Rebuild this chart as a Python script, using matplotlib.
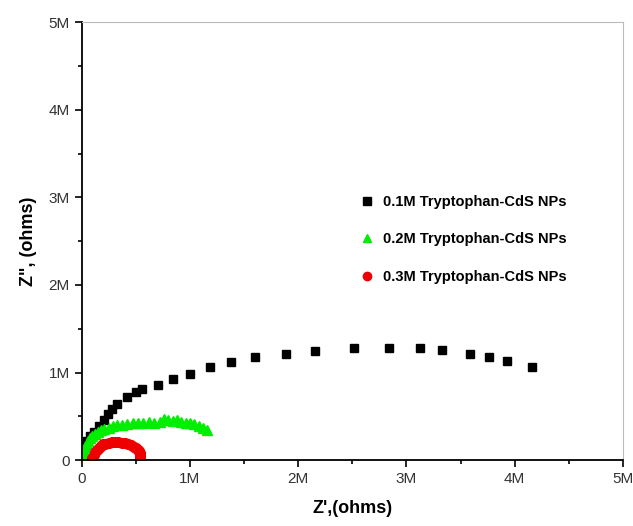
import matplotlib as mpl
mpl.use('Agg')
import matplotlib.pyplot as plt
from matplotlib.ticker import FuncFormatter, MultipleLocator

plt.rcParams['font.family'] = ['Liberation Sans', 'DejaVu Sans']

# Nyquist data, values in M ohm
x01 = [0.009, 0.023, 0.051, 0.078, 0.115, 0.161, 0.208, 0.244, 0.281, 0.327, 0.420, 0.503,
       0.558, 0.706, 0.844, 1.001, 1.186, 1.379, 1.600, 1.887, 2.154, 2.513, 2.837, 3.122,
       3.325, 3.584, 3.759, 3.925, 4.156]
y01 = [0.114, 0.171, 0.217, 0.274, 0.320, 0.389, 0.457, 0.526, 0.583, 0.640, 0.720, 0.777,
       0.811, 0.857, 0.926, 0.983, 1.063, 1.120, 1.177, 1.211, 1.246, 1.280, 1.280, 1.280,
       1.257, 1.211, 1.177, 1.131, 1.063]

x02 = [0.0, 0.01, 0.02, 0.03, 0.045, 0.06, 0.08, 0.10, 0.12, 0.15, 0.18, 0.21, 0.25, 0.29,
       0.33, 0.37, 0.42, 0.47, 0.52, 0.57, 0.62, 0.67, 0.72, 0.76, 0.80, 0.84, 0.88, 0.92,
       0.96, 1.00, 1.04, 1.08, 1.12, 1.16]
y02 = [0.03, 0.07, 0.11, 0.15, 0.19, 0.22, 0.25, 0.28, 0.30, 0.32, 0.34, 0.36, 0.37, 0.39,
       0.40, 0.40, 0.41, 0.42, 0.43, 0.43, 0.44, 0.42, 0.44, 0.47, 0.46, 0.45, 0.46, 0.44,
       0.43, 0.42, 0.41, 0.39, 0.37, 0.35]

x03 = [0.10, 0.11, 0.12, 0.14, 0.16, 0.18, 0.20, 0.22, 0.25, 0.28, 0.31, 0.34, 0.37, 0.40,
       0.43, 0.46, 0.48, 0.50, 0.52, 0.53, 0.54, 0.54, 0.54]
y03 = [0.03, 0.06, 0.09, 0.12, 0.145, 0.165, 0.18, 0.19, 0.20, 0.21, 0.21, 0.21, 0.20, 0.195,
       0.185, 0.17, 0.155, 0.14, 0.12, 0.10, 0.08, 0.06, 0.04]

labels = ['0.1M Tryptophan-CdS NPs', '0.2M Tryptophan-CdS NPs', '0.3M Tryptophan-CdS NPs']

def mfmt(v, pos):
    if abs(v) < 1e-9:
        return '0'
    return '%gM' % v

fig = plt.figure(figsize=(6.33, 5.26), dpi=100)
ax = fig.add_axes([0.129, 0.125, 0.855, 0.833])

ax.plot(x01, y01, 's', color='black', ms=5.5, ls='none', label=labels[0])
ax.plot(x02, y02, '^', color='#00ee00', ms=7, ls='none', label=labels[1])
ax.plot(x03, y03, 'o', color='#ee0000', ms=7, ls='none', label=labels[2])

ax.set_xlim(0, 5)
ax.set_ylim(0, 5)
for a in (ax.xaxis, ax.yaxis):
    a.set_major_locator(MultipleLocator(1))
    a.set_minor_locator(MultipleLocator(0.5))
    a.set_major_formatter(FuncFormatter(mfmt))
ax.tick_params(which='major', direction='out', length=5, width=1.2, labelsize=11, colors='black')
ax.tick_params(which='minor', direction='out', length=3, width=1.2)
ax.tick_params(labelcolor='#333333')
ax.spines['left'].set_linewidth(1.3)
ax.spines['bottom'].set_linewidth(1.3)
ax.spines['top'].set_color('#bbbbbb')
ax.spines['right'].set_color('#bbbbbb')

ax.set_xlabel("Z',(ohms)", fontsize=13, fontweight='bold', labelpad=10)
ax.set_ylabel('Z", (ohms)', fontsize=13, fontweight='bold', labelpad=8)

leg = ax.legend(loc='upper left', bbox_to_anchor=(0.49, 0.635), frameon=False,
                prop={'weight': 'bold', 'size': 10.5}, labelspacing=1.6, handletextpad=0.6,
                handlelength=1.0, markerscale=1.0)
for h in leg.legend_handles:
    h.set_markersize(6)

fig.savefig('out.png', dpi=100)
